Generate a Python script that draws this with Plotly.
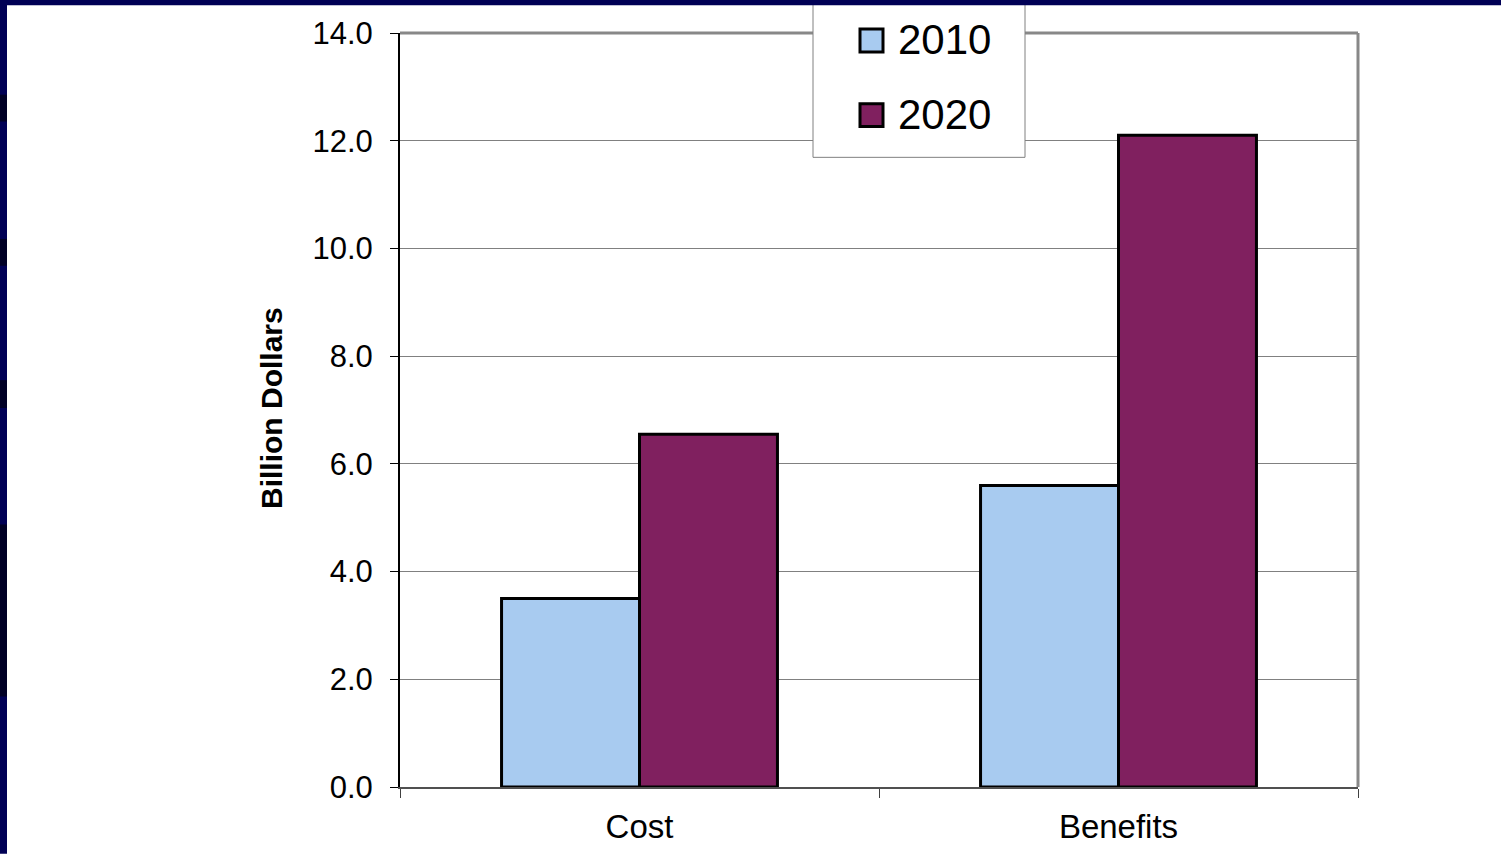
import plotly.graph_objects as go

# Data
categories = ["Cost", "Benefits"]
years = ["2010", "2020"]
values_2010 = [3.5, 5.6]
values_2020 = [6.55, 12.1]
series_colors = ["#A8CBF0", "#80205F"]
y_tick_values = [0, 2, 4, 6, 8, 10, 12, 14]
y_tick_labels = ["0.0", "2.0", "4.0", "6.0", "8.0", "10.0", "12.0", "14.0"]

W, H = 1501, 857
L, R, T, B = 400, 143, 33, 66
PW, PH = W - L - R, H - T - B


def px(x):
    """Pixel column -> paper x."""
    return (x - L) / PW


def py(y):
    """Pixel row -> paper y."""
    return (H - B - y) / PH


fig = go.Figure()
for name, vals, col in zip(years, [values_2010, values_2020], series_colors):
    fig.add_trace(go.Bar(
        name=name, x=categories, y=vals,
        marker=dict(color=col, line=dict(color="black", width=3)),
        showlegend=False,
    ))

regular = "Liberation Sans, Arial, sans-serif"

fig.update_layout(
    width=W, height=H,
    margin=dict(l=L, r=R, t=T, b=B, pad=0),
    paper_bgcolor="white", plot_bgcolor="white",
    barmode="group", bargap=0.424, bargroupgap=0,
    showlegend=False,
    xaxis=dict(
        showgrid=False, showline=True, linecolor="#505050", linewidth=2,
        ticks="outside", tickson="boundaries", ticklen=9, tickcolor="#404040", tickwidth=1,
        tickfont=dict(family=regular, size=33, color="black"),
        ticklabelstandoff=9,
    ),
    yaxis=dict(
        range=[0, 14], tickvals=y_tick_values, ticktext=y_tick_labels,
        showgrid=True, gridcolor="#808080", gridwidth=1,
        showline=True, linecolor="black", linewidth=2,
        ticks="outside", ticklen=8, tickcolor="black", tickwidth=1,
        tickfont=dict(family=regular, size=31, color="black"),
        ticklabelstandoff=11, zeroline=False,
    ),
)

shapes = []
# Top and right frame of the plot area
shapes.append(dict(type="line", xref="paper", yref="paper", x0=0, x1=1, y0=1, y1=1,
                   line=dict(color="#888888", width=3), layer="above"))
shapes.append(dict(type="line", xref="paper", yref="paper", x0=1, x1=1, y0=0, y1=1,
                   line=dict(color="#888888", width=3), layer="above"))

# Legend box
shapes.append(dict(type="rect", xref="paper", yref="paper",
                   x0=px(813), x1=px(1025), y0=py(158), y1=py(-2),
                   fillcolor="white", line=dict(color="#808080", width=1), layer="above"))
legend_rows = [40, 115]
for name, col, yc in zip(years, series_colors, legend_rows):
    shapes.append(dict(type="rect", xref="paper", yref="paper",
                       x0=px(860), x1=px(883), y0=py(yc + 12), y1=py(yc - 11),
                       fillcolor=col, line=dict(color="black", width=3), layer="above"))
    fig.add_annotation(xref="paper", yref="paper", x=px(896), y=py(yc),
                       xanchor="left", yanchor="middle", showarrow=False,
                       text=name, font=dict(family=regular, size=42, color="black"))

# Slide frame strips
navy = "#000055"
shapes.append(dict(type="rect", xref="paper", yref="paper",
                   x0=px(0), x1=px(W), y0=py(5), y1=py(-1),
                   fillcolor=navy, line=dict(width=0), layer="above"))
shapes.append(dict(type="rect", xref="paper", yref="paper",
                   x0=px(-1), x1=px(7), y0=py(H + 1), y1=py(-1),
                   fillcolor=navy, line=dict(width=0), layer="above"))
for y0, y1 in [(95, 122), (240, 267), (382, 410), (527, 700)]:
    shapes.append(dict(type="rect", xref="paper", yref="paper",
                       x0=px(-1), x1=px(7), y0=py(y1), y1=py(y0),
                       fillcolor="#000025", line=dict(width=0), layer="above"))
fig.update_layout(shapes=shapes)

# Y axis title
fig.add_annotation(xref="paper", yref="paper", x=px(271), y=py(410),
                   xanchor="center", yanchor="middle", showarrow=False, textangle=-90,
                   text="<b>Billion Dollars</b>",
                   font=dict(family=regular, size=30, color="black"))

fig.write_html("out.html")
